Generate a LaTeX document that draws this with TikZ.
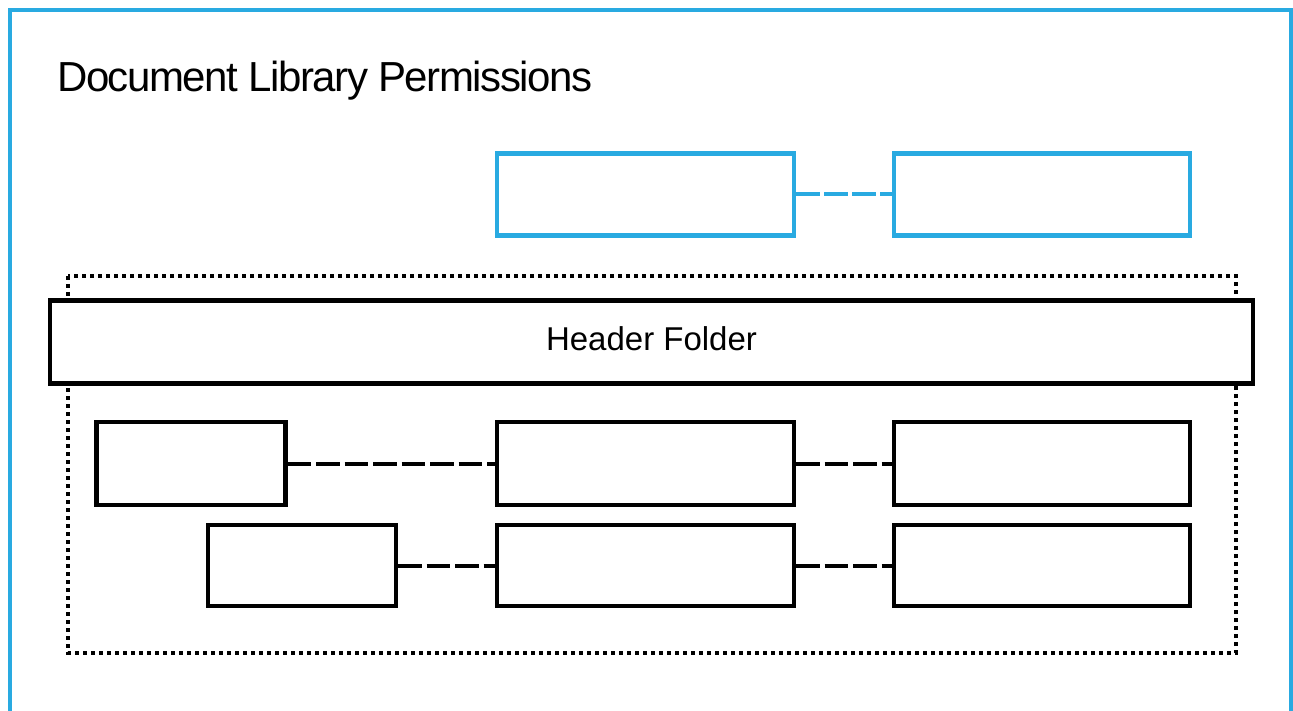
\documentclass[tikz,border=0pt]{standalone}
\usepackage{fontspec}
\setmainfont{Liberation Sans}
\newfontfamily\titlefont[LetterSpace=-3.5]{Liberation Sans}
\definecolor{frameblue}{RGB}{41,170,225}
\begin{document}
\begin{tikzpicture}[x=1pt,y=-1pt,
  box/.style={draw=black,line width=4.4pt,rectangle,inner sep=0pt,fill=white},
  bluebox/.style={draw=frameblue,line width=4.4pt,rectangle,inner sep=0pt,fill=white},
  link/.style={draw=black,line width=4pt,dash pattern=on 23.5pt off 5pt},
  bluelink/.style={draw=frameblue,line width=4pt,dash pattern=on 24pt off 4pt},
  dotbox/.style={draw=black,line width=4pt,dash pattern=on 4pt off 4pt}]
\useasboundingbox (0,0) rectangle (1293,711);
% outer frame (open at bottom)
\draw[frameblue,line width=4.4pt] (10,711) -- (10,10) -- (1291,10) -- (1291,711);
% title
\node[anchor=base west,inner sep=0pt,font=\titlefont\fontsize{42}{50}\selectfont] (title) at (57,92) {Document Library Permissions};
% top blue boxes
\node[bluebox,minimum width=297pt,minimum height=82pt] (b1) at (645.5,194.5) {};
\node[bluebox,minimum width=296pt,minimum height=82pt] (b2) at (1042,194.5) {};
\draw[bluelink] (b1.east) -- (b2.west);
% dotted container
\draw[dotbox] (68,276) rectangle (1236,653);
% header folder
\node[box,minimum width=1203pt,minimum height=83pt] (header) at (651.5,342) {};
\node[inner sep=0pt,font=\fontsize{33}{40}\selectfont] (headertext) at ([yshift=3pt]header.center) {Header Folder};
% row 1
\node[box,minimum width=189pt,minimum height=83pt] (a1) at (191,463.5) {};
\node[box,minimum width=297pt,minimum height=83pt] (a2) at (645.5,463.5) {};
\node[box,minimum width=296pt,minimum height=83pt] (a3) at (1042,463.5) {};
\draw[link] (a1.east) -- (a2.west);
\draw[link] (a2.east) -- (a3.west);
% row 2
\node[box,minimum width=188pt,minimum height=81pt] (c1) at (302,565.5) {};
\node[box,minimum width=297pt,minimum height=81pt] (c2) at (645.5,565.5) {};
\node[box,minimum width=296pt,minimum height=81pt] (c3) at (1042,565.5) {};
\draw[link] (c1.east) -- (c2.west);
\draw[link] (c2.east) -- (c3.west);
\end{tikzpicture}
\end{document}
